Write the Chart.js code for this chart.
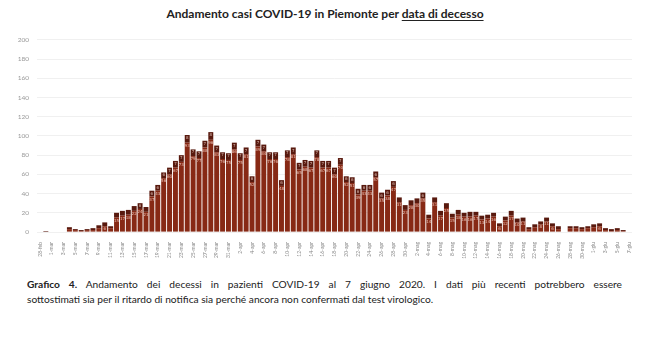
<!DOCTYPE html>
<html lang="it">
<head>
    <meta charset="UTF-8">
    <title>Andamento casi COVID-19 in Piemonte</title>
    <script src="https://cdn.jsdelivr.net/npm/chart.js"></script>
    <style>
        body { margin: 0; background: #fff; width: 650px; height: 344px; position: relative; overflow: hidden; }
        #title {
            position: absolute; top: 6px; left: 0; width: 650px; text-align: center;
            font-family: Lato, "DejaVu Sans", sans-serif; font-weight: bold; font-size: 12px; color: #222;
        }
        #title u { text-decoration-thickness: 1px; text-underline-offset: 2px; }
        #chart-box { position: absolute; top: 28px; left: 0; width: 650px; height: 240px; }
        #caption {
            position: absolute; top: 277px; left: 27px; width: 595px;
            font-family: Lato, "DejaVu Sans", sans-serif; font-size: 10.2px; color: #222; line-height: 15px;
        }
        #caption .l1 { text-align: justify; text-align-last: justify; white-space: nowrap; }
    </style>
</head>
<body>
    <div id="title">Andamento casi COVID-19 in Piemonte per <u>data di decesso</u></div>
    <div id="chart-box"><canvas id="barChart"></canvas></div>
    <div id="caption">
        <div class="l1"><b>Grafico 4.</b> Andamento dei decessi in pazienti COVID-19 al 7 giugno 2020. I dati più recenti potrebbero essere</div>
        <div>sottostimati sia per il ritardo di notifica sia perché ancora non confermati dal test virologico.</div>
    </div>

    <script>
        // giorni dal 28 febbraio al 7 giugno 2020
        const days = [
            '28-feb', '29-feb',
            '1-mar', '2-mar', '3-mar', '4-mar', '5-mar', '6-mar', '7-mar', '8-mar', '9-mar', '10-mar',
            '11-mar', '12-mar', '13-mar', '14-mar', '15-mar', '16-mar', '17-mar', '18-mar', '19-mar', '20-mar',
            '21-mar', '22-mar', '23-mar', '24-mar', '25-mar', '26-mar', '27-mar', '28-mar', '29-mar', '30-mar', '31-mar',
            '1-apr', '2-apr', '3-apr', '4-apr', '5-apr', '6-apr', '7-apr', '8-apr', '9-apr', '10-apr',
            '11-apr', '12-apr', '13-apr', '14-apr', '15-apr', '16-apr', '17-apr', '18-apr', '19-apr', '20-apr',
            '21-apr', '22-apr', '23-apr', '24-apr', '25-apr', '26-apr', '27-apr', '28-apr', '29-apr', '30-apr',
            '1-mag', '2-mag', '3-mag', '4-mag', '5-mag', '6-mag', '7-mag', '8-mag', '9-mag', '10-mag',
            '11-mag', '12-mag', '13-mag', '14-mag', '15-mag', '16-mag', '17-mag', '18-mag', '19-mag', '20-mag',
            '21-mag', '22-mag', '23-mag', '24-mag', '25-mag', '26-mag', '27-mag', '28-mag', '29-mag', '30-mag', '31-mag',
            '1-giu', '2-giu', '3-giu', '4-giu', '5-giu', '6-giu', '7-giu'
        ];

        // decessi confermati (parte bassa della barra)
        const confirmed = [
            0, 0, 0, 0, 0, 3, 2, 1, 2, 2, 4, 6, 4, 15, 17, 18, 22, 24, 21, 37,
            43, 56, 60, 67, 73, 93, 79, 77, 88, 96, 83, 76, 75, 86, 75, 81, 52, 89, 84, 76,
            76, 48, 78, 81, 65, 68, 67, 78, 67, 67, 60, 70, 52, 51, 39, 43, 43, 57, 35, 38,
            47, 31, 23, 28, 30, 35, 14, 31, 17, 25, 15, 18, 16, 16, 17, 13, 14, 16, 6, 12,
            17, 10, 11, 3, 5, 8, 11, 6, 3, 0, 4, 4, 3, 4, 5, 6, 2, 1, 2, 1, 0
        ];

        // decessi aggiunti (parte alta della barra)
        const added = [
            0, 1, 0, 0, 0, 2, 1, 1, 1, 2, 3, 4, 2, 5, 5, 5, 5, 6, 5, 6,
            6, 6, 7, 7, 7, 8, 7, 7, 7, 8, 7, 7, 7, 7, 7, 7, 6, 7, 7, 7,
            7, 6, 7, 7, 7, 7, 7, 7, 7, 7, 7, 7, 6, 6, 6, 6, 6, 6, 6, 6,
            6, 5, 5, 5, 5, 6, 4, 5, 5, 5, 4, 5, 4, 5, 4, 4, 4, 4, 3, 4,
            5, 4, 4, 2, 3, 3, 4, 3, 3, 0, 2, 2, 2, 2, 3, 3, 2, 2, 2, 1, 0
        ];

        const yTicks = [0, 20, 40, 60, 80, 100, 120, 140, 160, 180, 200];

        // scrive il valore di ogni segmento dentro la barra, in piccolo
        const segmentLabels = {
            id: 'segmentLabels',
            afterDatasetsDraw(chart) {
                const ctx = chart.ctx;
                ctx.save();
                ctx.font = '4px "DejaVu Sans"';
                ctx.textAlign = 'center';
                ctx.textBaseline = 'top';
                chart.data.datasets.forEach((ds, di) => {
                    const meta = chart.getDatasetMeta(di);
                    meta.data.forEach((bar, i) => {
                        const v = ds.data[i];
                        if (!v || Math.abs(bar.base - bar.y) < 5) return;
                        ctx.fillStyle = di === 0 ? 'rgba(255,225,215,0.8)' : 'rgba(255,230,220,0.75)';
                        ctx.fillText(v, bar.x, bar.y + 1);
                    });
                });
                ctx.restore();
            }
        };

        function renderBarChart() {
            const ctx = document.getElementById('barChart').getContext('2d');
            new Chart(ctx, {
                type: 'bar',
                data: {
                    labels: days,
                    datasets: [{
                        label: 'Confermati',
                        data: confirmed,
                        backgroundColor: '#872915',
                        barPercentage: 0.84,
                        categoryPercentage: 1
                    }, {
                        label: 'Aggiunti',
                        data: added,
                        backgroundColor: '#58190e',
                        barPercentage: 0.84,
                        categoryPercentage: 1
                    }],
                },
                options: {
                    responsive: true,
                    maintainAspectRatio: false,
                    animation: false,
                    layout: { padding: { top: 10, right: 18, left: 0, bottom: 0 } },
                    plugins: {
                        legend: { display: false },
                        tooltip: { enabled: false }
                    },
                    scales: {
                        x: {
                            stacked: true,
                            grid: { display: false },
                            border: { display: false },
                            ticks: {
                                autoSkip: false,
                                minRotation: 90,
                                maxRotation: 90,
                                padding: 2,
                                color: '#888',
                                font: { family: 'Lato', size: 5 },
                                callback: (v, i) => i % 2 === 0 ? days[i] : ''
                            },
                            afterFit: axis => { axis.height = 36; }
                        },
                        y: {
                            stacked: true,
                            min: 0,
                            max: 200,
                            afterBuildTicks: axis => { axis.ticks = yTicks.map(v => ({ value: v })); },
                            grid: { color: '#ececec', lineWidth: 0.8, drawTicks: false },
                            border: { display: false },
                            ticks: {
                                color: '#999',
                                padding: 8,
                                font: { family: 'Lato', size: 6.5 }
                            },
                            afterFit: axis => { axis.width = 37; }
                        }
                    }
                },
                plugins: [segmentLabels]
            });
        }

        window.onload = renderBarChart;
    </script>
</body>
</html>
